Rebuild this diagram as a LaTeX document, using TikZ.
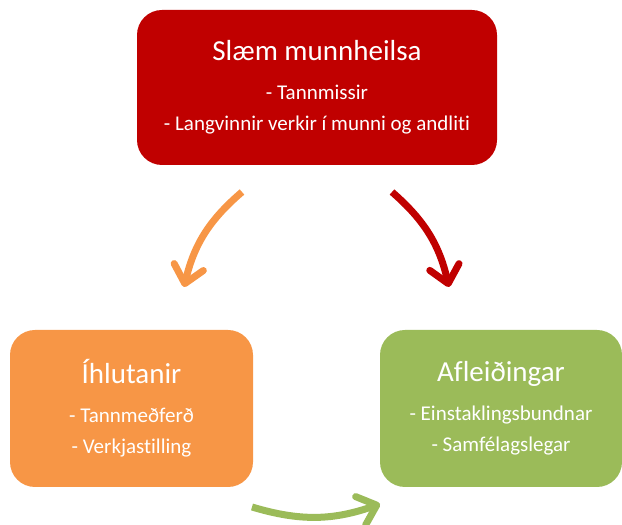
\documentclass[tikz,border=0pt]{standalone}
\usepackage{fontspec}
\setmainfont{Carlito}[Ligatures=NoCommon]
\usetikzlibrary{arrows.meta,calc,positioning}
\definecolor{slaemred}{HTML}{C00000}
\definecolor{ihlutorange}{HTML}{F79646}
\definecolor{afleidgreen}{HTML}{9BBB59}
\tikzset{pop1/.style={slaemred},pop2/.style={ihlutorange},pop3/.style={afleidgreen}}

\begin{document}
\begin{tikzpicture}[x=1pt,y=1pt]

\tikzset{
box/.style={rounded corners=25pt,text=white,align=center,inner sep=0pt,font=\fontsize{21}{31}\selectfont},
slaembox/.style={box,fill=slaemred,minimum width=360pt,minimum height=155pt},
ihlutbox/.style={box,fill=ihlutorange,minimum width=243pt,minimum height=157pt},
afleidbox/.style={box,fill=afleidgreen,minimum width=242pt,minimum height=157pt},
cycle/.style={line width=7pt,-{Straight Barb[length=17pt,width=30pt,round]}}
}

\useasboundingbox (0,0) rectangle (622,525);

% Nodes
\node[slaembox] (slaem) at (317,437.5) {{\fontsize{29}{31}\selectfont Slæm munnheilsa}\\[8pt]- Tannmissir\\- Langvinnir verkir í munni og andliti};
\node[ihlutbox] (ihlut) at (131.5,116.5) {{\fontsize{29}{31}\selectfont Íhlutanir}\\[8pt]- Tannmeðferð\\- Verkjastilling};
\node[afleidbox] (afleid) at (501,116.5) {{\fontsize{29}{31}\selectfont Afleiðingar}\\[8pt]- Einstaklingsbundnar\\- Samfélagslegar};

% Arrow ends
\coordinate (ihlstart) at (242,333);
\coordinate (ihlend) at (184,238);
\coordinate (aflstart) at (392,333);
\coordinate (aflend) at (449,238);
\coordinate (botstart) at (252,18);
\coordinate (botend) at (380,21);

% Arrows
\draw[cycle,draw=ihlutorange] (ihlstart) to[bend right=18] (ihlend);
\draw[cycle,draw=slaemred] (aflstart) to[bend left=18] (aflend);
\draw[cycle,draw=afleidgreen] (botstart) to[bend right=18] (botend);

\end{tikzpicture}
\end{document}
